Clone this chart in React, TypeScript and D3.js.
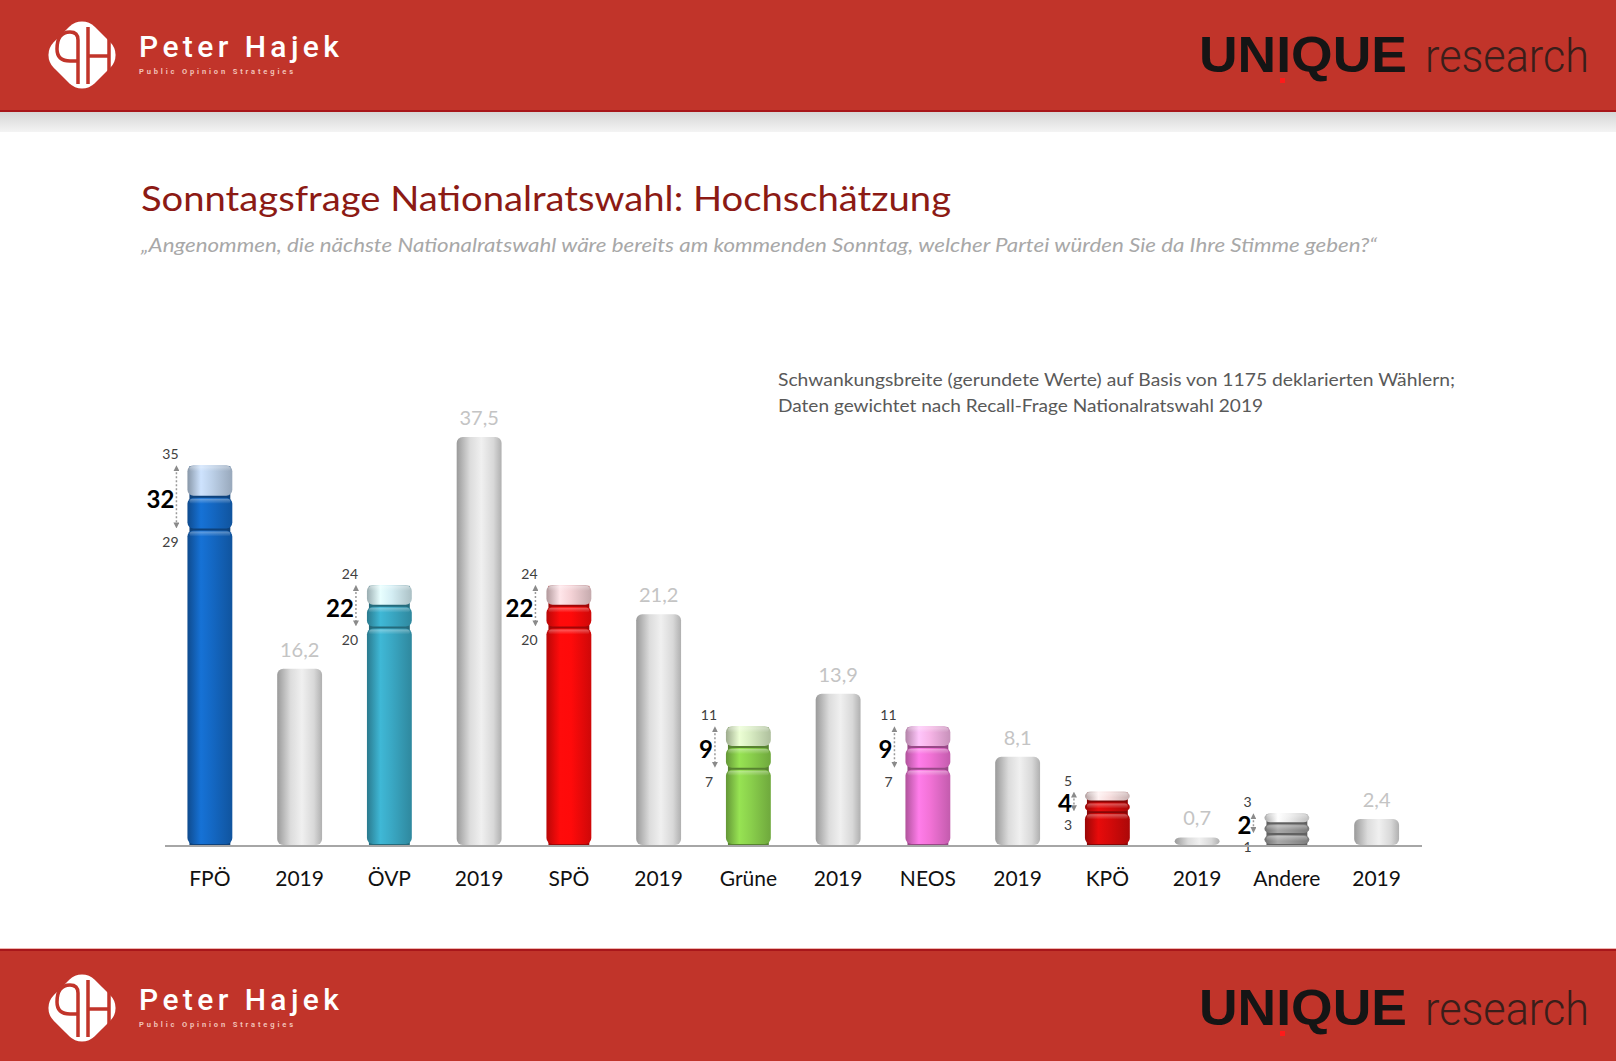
import * as d3 from 'd3';

// categories along the x axis (party estimate, then 2019 result)
const categories = ['FPÖ', '2019', 'ÖVP', '2019', 'SPÖ', '2019', 'Grüne', '2019', 'NEOS', '2019', 'KPÖ', '2019', 'Andere', '2019'];
const parties = ['FPÖ', 'ÖVP', 'SPÖ', 'Grüne', 'NEOS', 'KPÖ', 'Andere'];
const estimate = [32, 22, 22, 9, 9, 4, 2];
const lower = [29, 20, 20, 7, 7, 3, 1];
const upper = [35, 24, 24, 11, 11, 5, 3];
const result2019 = [16.2, 37.5, 21.2, 13.9, 8.1, 0.7, 2.4];
const result2019Labels = ['16,2', '37,5', '21,2', '13,9', '8,1', '0,7', '2,4'];
const baseColors = ['#1468c4', '#3aa8c4', '#ff0a0a', '#8ad04c', '#f272d6', '#d40a0a', '#9a9a9a'];
const capColors = ['#bcd0e8', '#d4eef4', '#f4d2d6', '#d8ecc2', '#f6b4e6', '#f6dcdc', '#ececec'];

const W = 1616;
const H = 1061;
const RED = '#c1342a';
const FONT = 'Lato, "Open Sans", sans-serif';

const x = d3.scaleBand<number>()
  .domain(d3.range(categories.length))
  .range([165, 1421.5])
  .paddingInner(0.5)
  .paddingOuter(0.25);
const y = d3.scaleLinear().domain([0, 37.5]).range([845, 437]);

function Logo({ cx, cy }: { cx: number; cy: number }) {
  return (
    <g transform={`translate(${cx},${cy})`}>
      <rect x={-29} y={-29} width={58} height={58} rx={18} fill="#fff" transform="rotate(45)" />
      <path
        d="M -4 29 V -15 Q -4 -23 -12 -23 Q -25 -23 -25 -6 Q -25 6 -12 6 H -4 M 6 -28 V 29 M 6 1 H 27 M 27 -16 V 18"
        fill="none" stroke={RED} strokeWidth={3.5} />
    </g>
  );
}

function Brand({ dy }: { dy: number }) {
  return (
    <g transform={`translate(0,${dy})`}>
      <Logo cx={82} cy={55} />
      <text x={139} y={57} fill="#fff" fontFamily="Roboto, sans-serif" fontSize={30} fontWeight={500}
        textLength={200} lengthAdjust="spacing">Peter Hajek</text>
      <text x={139} y={74} fill="#f2c2b8" fontFamily="Roboto, sans-serif" fontSize={7.5} fontWeight={700}
        textLength={154} lengthAdjust="spacing">Public Opinion Strategies</text>
      <text x={1199} y={72} fill="#151515" fontFamily='"Liberation Sans", Arial, sans-serif' fontWeight={700}
        fontSize={50} textLength={208} lengthAdjust="spacingAndGlyphs">UNIQUE</text>
      <text x={1425} y={72} fill="#3a1e1a" fontFamily='Roboto, "Liberation Sans", sans-serif' fontWeight={300}
        fontSize={47} textLength={164} lengthAdjust="spacingAndGlyphs">research</text>
      <rect x={1280} y={78} width={5} height={5} fill="#ff1a1a" />
    </g>
  );
}

function gradStops(base: string) {
  const c = d3.rgb(base);
  return [
    { o: '0%', c: c.darker(0.9).formatHex() },
    { o: '30%', c: c.brighter(0.25).formatHex() },
    { o: '55%', c: c.formatHex() },
    { o: '100%', c: c.darker(0.6).formatHex() },
  ];
}

export default function App() {
  const bw = x.bandwidth();
  return (
    <svg width={W} height={H} style={{ position: 'absolute', left: 0, top: 0, display: 'block' }}
      fontFamily={FONT}>
      <defs>
        {baseColors.map((b, i) => (
          <linearGradient key={'b' + i} id={`base${i}`} x1="0" x2="1" y1="0" y2="0">
            {gradStops(b).map(s => <stop key={s.o} offset={s.o} stopColor={s.c} />)}
          </linearGradient>
        ))}
        {capColors.map((b, i) => (
          <linearGradient key={'c' + i} id={`cap${i}`} x1="0" x2="1" y1="0" y2="0">
            {gradStops(b).map(s => <stop key={s.o} offset={s.o} stopColor={s.c} />)}
          </linearGradient>
        ))}
        <linearGradient id="grey" x1="0" x2="1" y1="0" y2="0">
          <stop offset="0%" stopColor="#9a9a9a" />
          <stop offset="30%" stopColor="#dcdcdc" />
          <stop offset="55%" stopColor="#f0f0f0" />
          <stop offset="82%" stopColor="#d8d8d8" />
          <stop offset="100%" stopColor="#b0b0b0" />
        </linearGradient>
        <linearGradient id="shade" x1="0" x2="0" y1="0" y2="1">
          <stop offset="0%" stopColor="#d6d6d6" />
          <stop offset="100%" stopColor="#f4f4f4" />
        </linearGradient>
        <linearGradient id="segShade" x1="0" x2="0" y1="0" y2="1">
          <stop offset="0%" stopColor="#fff" stopOpacity={0.35} />
          <stop offset="100%" stopColor="#fff" stopOpacity={0} />
        </linearGradient>
        <marker id="arr" viewBox="0 0 10 10" refX={5} refY={5} markerWidth={6} markerHeight={6}
          orient="auto-start-reverse" markerUnits="userSpaceOnUse">
          <path d="M0,0 L10,5 L0,10 z" fill="#8a8a8a" />
        </marker>
      </defs>

      <rect width={W} height={H} fill="#fff" />

      {/* header */}
      <rect x={0} y={0} width={W} height={110} fill={RED} />
      <rect x={0} y={110} width={W} height={2} fill="#a8161a" />
      <rect x={0} y={112} width={W} height={20} fill="url(#shade)" />
      <Brand dy={0} />

      {/* footer */}
      <rect x={0} y={948} width={W} height={1} fill="#eeb4b0" />
      <rect x={0} y={949} width={W} height={2} fill="#a8161a" />
      <rect x={0} y={951} width={W} height={H - 951} fill={RED} />
      <Brand dy={953} />

      {/* titles */}
      <text x={141} y={211} fill="#8c1a14" fontSize={34} textLength={810} lengthAdjust="spacingAndGlyphs">
        Sonntagsfrage Nationalratswahl: Hochschätzung
      </text>
      <text x={141} y={252} fill="#a8a8a8" fontSize={19} fontStyle="italic" textLength={1236}
        lengthAdjust="spacingAndGlyphs">
        „Angenommen, die nächste Nationalratswahl wäre bereits am kommenden Sonntag, welcher Partei würden Sie da Ihre Stimme geben?“
      </text>
      <text x={778} y={386} fill="#595959" fontSize={17} textLength={677} lengthAdjust="spacingAndGlyphs">
        Schwankungsbreite (gerundete Werte) auf Basis von 1175 deklarierten Wählern;
      </text>
      <text x={778} y={412} fill="#595959" fontSize={17} textLength={485} lengthAdjust="spacingAndGlyphs">
        Daten gewichtet nach Recall-Frage Nationalratswahl 2019
      </text>

      {/* 2019 bars */}
      {result2019.map((v, i) => {
        const xi = x(i * 2 + 1)!;
        return (
          <g key={'r' + i}>
            <rect x={xi} y={y(v)} width={bw} height={y(0) - y(v)} rx={6} fill="url(#grey)" />
            <text x={xi + bw / 2} y={y(v) - 12} textAnchor="middle" fill="#c4c4c4" fontSize={20}>
              {result2019Labels[i]}
            </text>
          </g>
        );
      })}

      {/* party bars with confidence ranges */}
      {parties.map((p, i) => {
        const xi = x(i * 2)!;
        const segs = [
          { a: 0, b: lower[i], fill: `url(#base${i})` },
          { a: lower[i], b: estimate[i], fill: `url(#base${i})` },
          { a: estimate[i], b: upper[i], fill: `url(#cap${i})` },
        ];
        const dark = d3.rgb(baseColors[i]).darker(1.3).formatHex();
        const ax = xi - 11;
        return (
          <g key={p}>
            <rect x={xi + 2} y={y(upper[i]) + 2} width={bw - 4} height={y(0) - y(upper[i]) - 2} fill={dark} />
            {segs.map((s, k) => (
              <g key={k}>
                <rect x={xi} y={y(s.b) + 1} width={bw} height={Math.max(0, y(s.a) - y(s.b) - 2)} rx={6}
                  fill={s.fill} />
                <rect x={xi + 2} y={y(s.b) + 2} width={bw - 4} height={Math.min(5, Math.max(0, y(s.a) - y(s.b) - 4))}
                  rx={3} fill="url(#segShade)" />
              </g>
            ))}
            <line x1={ax} x2={ax} y1={y(upper[i]) + 4} y2={y(lower[i]) - 4} stroke="#9a9a9a" strokeWidth={1.5}
              strokeDasharray="2 2" markerStart="url(#arr)" markerEnd="url(#arr)" />
            <text x={xi - 17} y={y(upper[i]) - 5} textAnchor="middle" fill="#404040" fontSize={14}>{upper[i]}</text>
            <text x={xi - 17} y={y(lower[i]) + 18} textAnchor="middle" fill="#404040" fontSize={14}>{lower[i]}</text>
            <text x={xi - 13} y={y(estimate[i]) + 11} textAnchor="end" fill="#000" fontSize={24}
              fontWeight={700}>{estimate[i]}</text>
          </g>
        );
      })}

      {/* axis */}
      <line x1={165} x2={1422} y1={y(0) + 1} y2={y(0) + 1} stroke="#a6a6a6" strokeWidth={2} />
      {categories.map((c, i) => (
        <text key={'l' + i} x={x(i)! + bw / 2} y={886} textAnchor="middle" fill="#111" fontSize={21}>{c}</text>
      ))}
    </svg>
  );
}
